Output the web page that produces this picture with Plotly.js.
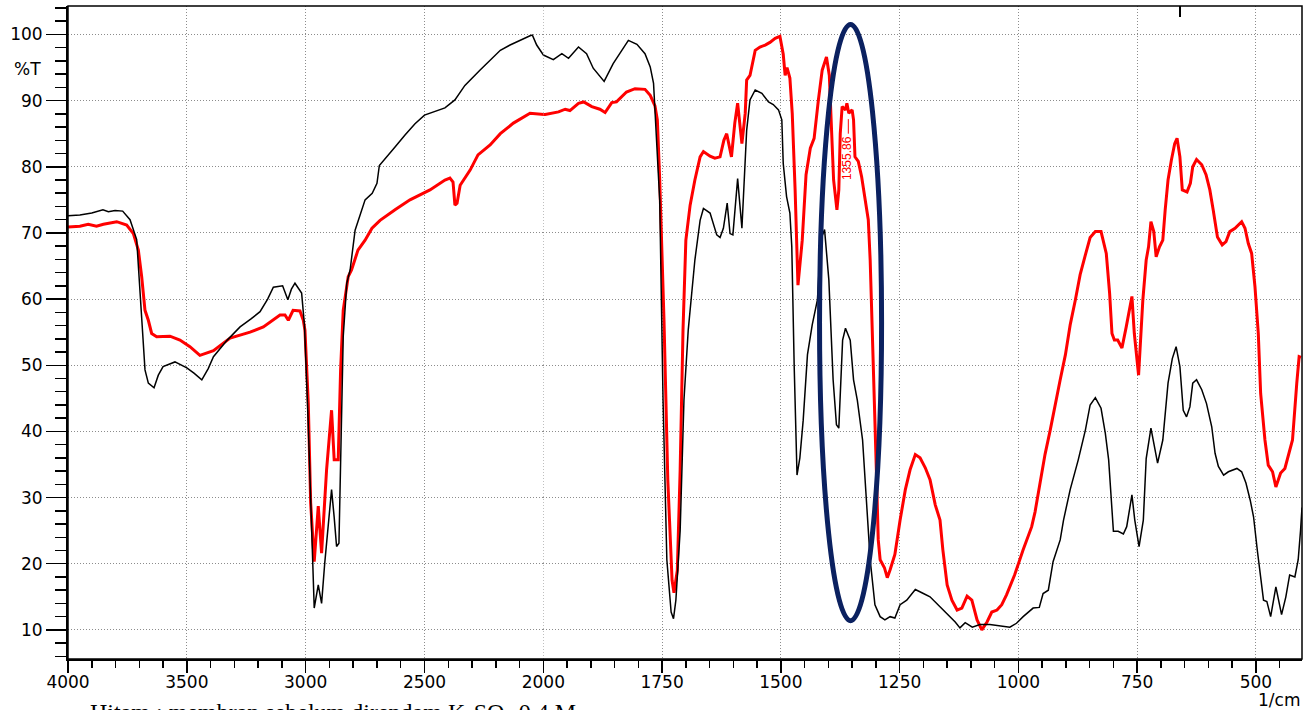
<!DOCTYPE html>
<html><head><meta charset="utf-8">
<script src="https://cdn.plot.ly/plotly-3.0.1.min.js"></script>
<style>html,body{margin:0;padding:0;background:#fff}#chart{width:1308px;height:710px}</style>
</head><body><div id="chart"></div>
<script>
// Wavenumber (1/cm) and transmittance (%T)
const blackWn = [4000,3950,3900,3853,3830,3802,3770,3739,3711,3690,3676,3662,3638,3620,3600,3550,3500,3470,3437,3410,3388,3330,3276,3230,3192,3160,3136,3097,3075,3060,3045,3017,3005,2990,2975,2964,2947,2933,2920,2900,2891,2880,2870,2860,2849,2842,2827,2813,2792,2750,2720,2700,2690,2650,2624,2582,2540,2500,2450,2414,2372,2330,2267,2204,2181,2140,2112,2080,2056,2046,2028,2000,1979,1961,1947,1926,1909,1895,1872,1853,1821,1803,1786,1775,1768,1761,1755,1748,1740,1731,1726,1721,1712,1704,1695,1681,1670,1663,1649,1635,1628,1621,1613,1607,1601,1591,1582,1572,1565,1554,1540,1526,1516,1505,1498,1495,1488,1481,1477,1472,1466,1460,1453,1444,1434,1423,1416,1408,1399,1390,1383,1378,1370,1364,1354,1347,1339,1328,1320,1312,1302,1291,1281,1270,1260,1249,1235,1217,1200,1186,1154,1133,1123,1112,1097,1081,1060,1039,1018,1004,990,969,956,948,937,927,912,905,891,874,859,849,838,826,817,810,803,800,790,779,772,765,761,755,746,737,731,721,707,696,685,676,668,660,653,646,639,633,625,614,604,593,586,579,568,558,540,530,521,512,505,497,487,484,477,469,458,446,437,429,418,411,406,403];
const blackT  = [72.6,72.7,73.0,73.5,73.2,73.4,73.3,72.0,69.0,57.9,49.3,47.3,46.6,48.5,49.8,50.5,49.6,48.8,47.8,49.5,51.3,53.8,55.8,57.0,58.1,60.0,61.8,62.0,59.9,61.5,62.4,60.9,56.0,42.0,25.0,13.3,16.8,14.0,20.0,28.0,31.2,27.0,22.6,23.1,44.2,54.3,62.4,64.4,70.4,75.0,76.0,77.5,80.2,82.0,83.0,84.8,86.5,87.8,88.5,88.9,90.1,92.3,94.6,96.9,97.6,98.4,98.9,99.4,99.8,99.9,98.4,96.9,96.2,97.1,96.4,98.1,97.1,94.9,92.9,95.6,99.1,98.5,97.1,95.1,92.6,84.0,74.9,44.7,20.6,12.7,11.7,14.5,25.0,44.7,55.3,65.9,71.9,73.7,73.0,69.7,69.3,70.7,74.5,69.9,69.7,78.2,70.7,85.5,90.1,91.6,91.1,89.8,89.4,88.6,87.1,80.5,75.5,73.0,67.9,50.0,33.4,36.0,41.7,51.6,56.1,59.9,69.0,70.5,62.9,47.8,41.0,40.5,53.8,55.6,53.8,47.8,44.7,38.7,29.6,20.6,13.8,12.0,11.5,12.0,11.8,13.8,14.5,16.1,15.5,15.0,12.7,11.2,10.3,11.1,10.4,10.8,10.8,10.6,10.4,11.0,12.0,13.3,13.4,15.5,16.0,20.3,23.6,26.6,31.2,35.7,40.2,44.0,45.1,43.5,39.7,35.7,27.1,24.9,24.9,24.5,25.6,28.9,30.4,26.6,22.6,26.6,35.9,40.5,35.2,38.7,47.3,51.0,52.8,49.8,43.2,42.2,43.7,47.3,47.8,46.3,44.2,40.7,36.7,34.7,33.4,33.9,34.4,33.9,32.2,29.6,27.1,22.0,16.0,14.5,14.3,12.0,16.5,12.3,15.0,18.3,18.0,20.6,25.1,28.5];

const redWn = [4000,3950,3915,3880,3851,3820,3795,3753,3725,3704,3690,3676,3662,3648,3627,3571,3529,3487,3445,3388,3318,3234,3178,3108,3087,3073,3053,3024,3010,3003,2989,2979,2964,2947,2933,2912,2891,2880,2863,2853,2842,2821,2807,2780,2750,2721,2687,2624,2561,2477,2414,2393,2380,2372,2363,2350,2308,2275,2224,2181,2126,2056,1996,1968,1954,1944,1926,1915,1898,1881,1870,1856,1846,1825,1807,1786,1775,1765,1760,1755,1746,1738,1729,1725,1718,1712,1706,1700,1691,1681,1670,1663,1649,1639,1628,1620,1614,1604,1597,1591,1582,1575,1572,1565,1554,1544,1533,1523,1512,1502,1495,1491,1487,1481,1476,1470,1464,1455,1447,1438,1430,1421,1413,1404,1398,1389,1382,1378,1375,1371,1364,1361,1357,1350,1347,1344,1337,1330,1323,1316,1312,1308,1303,1299,1295,1291,1282,1276,1270,1260,1249,1238,1228,1217,1207,1196,1186,1175,1165,1159,1150,1140,1129,1119,1108,1098,1087,1077,1066,1056,1045,1035,1025,1008,990,972,965,954,944,933,923,912,901,891,880,870,859,849,838,826,815,808,803,798,791,782,773,766,761,756,747,738,731,726,721,715,710,703,696,691,685,678,671,666,660,655,645,638,633,625,614,605,597,590,581,571,563,555,544,530,523,516,509,502,495,490,481,474,465,458,448,439,429,423,414,409,405];
const redT  = [70.9,71.0,71.3,71.0,71.3,71.5,71.7,71.2,69.9,67.4,63.4,58.3,56.8,54.8,54.3,54.4,53.8,52.8,51.5,52.2,54.1,55.0,55.8,57.6,57.6,56.8,58.3,58.2,56.8,55.3,44.3,29.2,20.3,28.7,21.6,34.2,43.2,35.7,35.7,49.3,58.3,63.4,64.4,67.4,68.9,70.7,71.9,73.5,75.0,76.5,78.0,78.3,77.7,74.2,74.5,77.2,79.5,81.8,83.3,85.0,86.6,88.1,87.9,88.3,88.7,88.5,89.6,89.8,89.1,88.7,88.2,89.7,89.8,91.3,91.8,91.7,90.8,89.2,87.1,78.0,56.8,32.7,17.5,15.6,19.0,34.2,55.3,68.9,74.2,78.0,81.5,82.3,81.6,81.3,81.5,84.0,85.0,81.5,86.6,89.6,83.5,88.1,93.1,93.8,97.6,98.1,98.4,98.8,99.4,99.7,97.0,93.8,95.0,93.4,88.0,76.5,62.1,68.9,78.8,82.8,84.3,90.1,94.6,96.6,93.8,78.0,73.5,76.5,85.0,89.1,88.6,89.6,88.1,88.6,87.1,81.5,80.8,78.5,75.0,72.0,65.9,56.8,44.7,34.2,23.6,20.6,19.4,17.9,19.1,21.4,26.6,31.2,34.2,36.5,36.0,34.5,32.7,28.9,26.6,22.1,16.8,14.5,13.0,13.3,15.1,14.5,11.5,10.0,11.2,12.7,13.0,13.8,15.3,18.3,22.1,25.6,27.8,32.2,36.5,40.2,44.0,47.8,51.6,56.1,59.9,63.7,66.7,69.3,70.2,70.2,66.9,60.9,54.8,53.8,53.8,52.6,55.8,58.8,60.4,54.8,48.5,59.9,65.9,67.9,71.7,70.2,66.4,67.9,68.9,73.5,78.0,81.0,83.5,84.3,81.5,76.5,76.2,77.5,80.0,81.1,80.3,78.8,76.5,73.5,69.4,68.2,68.7,70.2,70.7,71.7,70.7,68.4,66.9,61.9,54.8,45.7,38.7,34.9,33.9,31.6,33.7,34.4,36.9,38.7,47.3,51.3,51.2];

const hiTicks = [4000,3500,3000,2500];
const loTicks = [2000,1750,1500,1250,1000,750,500];
const yTicks  = [10,20,30,40,50,60,70,80,90,100];
const peakLabel = '1355.86';
const peakWn = 1358;
const xLabel = '1/cm';
const yLabel = '%T';
const noteText = 'Hitam : membran sebelum direndam K<sub>2</sub>SO<sub>4</sub> 0.4 M';

const BREAK = 2000;
// split a spectrum at the scale break; keep one point beyond the break on each side
// so the line runs continuously (it is clipped by each subplot)
function part(wn, t, high) {
  const xs = [], ys = [];
  for (let i = 0; i < wn.length; i++) {
    const inside = high ? wn[i] >= BREAK : wn[i] <= BREAK;
    const nextIn = high ? (i > 0 && wn[i - 1] >= BREAK) : (i + 1 < wn.length && wn[i + 1] <= BREAK);
    if (inside || nextIn) { xs.push(wn[i]); ys.push(t[i]); }
  }
  return {xs, ys};
}
const bH = part(blackWn, blackT, true), bL = part(blackWn, blackT, false);
const rH = part(redWn, redT, true), rL = part(redWn, redT, false);

const red = {color: '#ff0000', width: 3};
const blk = {color: '#000000', width: 1.5};
const traces = [
  {x: rH.xs, y: rH.ys, xaxis: 'x', yaxis: 'y', mode: 'lines', line: red, showlegend: false},
  {x: rL.xs, y: rL.ys, xaxis: 'x2', yaxis: 'y', mode: 'lines', line: red, showlegend: false},
  {x: bH.xs, y: bH.ys, xaxis: 'x', yaxis: 'y', mode: 'lines', line: blk, showlegend: false},
  {x: bL.xs, y: bL.ys, xaxis: 'x2', yaxis: 'y', mode: 'lines', line: blk, showlegend: false}
];

const FONT = 'DejaVu Sans, Arial, sans-serif';
const GRID = '#8c8c8c';
const GDASH = '1px,2px';
const split = 0.3852;
const common = {
  showline: true, linecolor: '#000', linewidth: 2,
  ticks: 'outside', ticklen: 12, tickwidth: 1.5, tickcolor: '#000',
  showgrid: true, gridcolor: GRID, griddash: GDASH, gridwidth: 1,
  zeroline: false, tickfont: {family: FONT, size: 17, color: '#000'},
  ticklabelstandoff: -5,
  anchor: 'y', fixedrange: true
};
const layout = {
  width: 1308, height: 710,
  margin: {l: 68, r: 6, t: 6, b: 51},
  paper_bgcolor: '#fff', plot_bgcolor: '#fff',
  showlegend: false,
  xaxis: Object.assign({}, common, {
    domain: [0, split], range: [4000, 2000], tickmode: 'array', tickvals: hiTicks,
    minor: {tickmode: 'linear', tick0: 2000, dtick: 100, ticks: 'outside', ticklen: 7, tickwidth: 1.5, tickcolor: '#000', showgrid: false}
  }),
  xaxis2: Object.assign({}, common, {
    domain: [split, 1], range: [2000, 403], tickmode: 'array', tickvals: loTicks,
    minor: {tickmode: 'linear', tick0: 2000, dtick: 50, ticks: 'outside', ticklen: 7, tickwidth: 1.5, tickcolor: '#000', showgrid: false}
  }),
  yaxis: {
    anchor: 'x', range: [5.6, 104.3], tickmode: 'array', tickvals: yTicks,
    showline: true, linecolor: '#000', linewidth: 2,
    ticks: 'outside', ticklen: 20, tickwidth: 1.5, tickcolor: '#000',
    minor: {tickmode: 'linear', tick0: 0, dtick: 2, ticks: 'outside', ticklen: 11, tickwidth: 1.5, tickcolor: '#000', showgrid: false},
    showgrid: true, gridcolor: GRID, griddash: GDASH, gridwidth: 1,
    zeroline: false, tickfont: {family: FONT, size: 17, color: '#000'}, fixedrange: true
  },
  shapes: [
    {type: 'line', xref: 'x2', yref: 'paper', x0: 2000, x1: 2000, y0: 0, y1: 1, line: {color: GRID, width: 1, dash: GDASH}, layer: 'below'},
    {type: 'rect', xref: 'paper', yref: 'paper', x0: (1181-68)/1234, x1: (1300-68)/1234, y0: 1-(58-6)/653, y1: 1-(7-6)/653, fillcolor: '#fff', line: {width: 0}, layer: 'between'},
    {type: 'line', xref: 'paper', yref: 'paper', x0: (1180-68)/1234, x1: (1180-68)/1234, y0: 1-(17-6)/653, y1: 1, line: {color: '#000', width: 2}},
    {type: 'rect', xref: 'paper', yref: 'paper', x0: 0, x1: 1, y0: 0, y1: 1, line: {color: '#000', width: 1.5}, layer: 'above'},
    {type: 'line', xref: 'x2', yref: 'y', x0: peakWn, x1: peakWn, y0: 85.0, y1: 87.2, line: {color: '#ff0000', width: 1}},
    {type: 'circle', xref: 'x2', yref: 'y', x0: 1418.6, x1: 1288, y0: 11.4, y1: 101.5, line: {color: '#0b2160', width: 5}, layer: 'above'}
  ],
  annotations: [
    {text: peakLabel, xref: 'x2', yref: 'y', x: 1361, y: 81.3, showarrow: false, textangle: -90,
     font: {family: 'Liberation Sans, Arial, sans-serif', size: 12, color: '#ff0000'}},
    {text: yLabel, xref: 'paper', yref: 'y', x: (43-68)/1234, y: 94.8, xanchor: 'right', yanchor: 'middle', showarrow: false,
     font: {family: FONT, size: 17, color: '#000'}},
    {text: xLabel, xref: 'paper', yref: 'paper', x: 1, y: -(700-659)/653, xanchor: 'right', yanchor: 'middle', showarrow: false,
     font: {family: FONT, size: 17, color: '#000'}},
    {text: noteText, xref: 'paper', yref: 'paper', x: (88-68)/1234, y: -(714-659)/653, xanchor: 'left', yanchor: 'middle', showarrow: false,
     font: {family: 'Liberation Serif, Times New Roman, serif', size: 24, color: '#000'}}
  ]
};
Plotly.newPlot('chart', traces, layout, {displayModeBar: false, staticPlot: true});
</script></body></html>
